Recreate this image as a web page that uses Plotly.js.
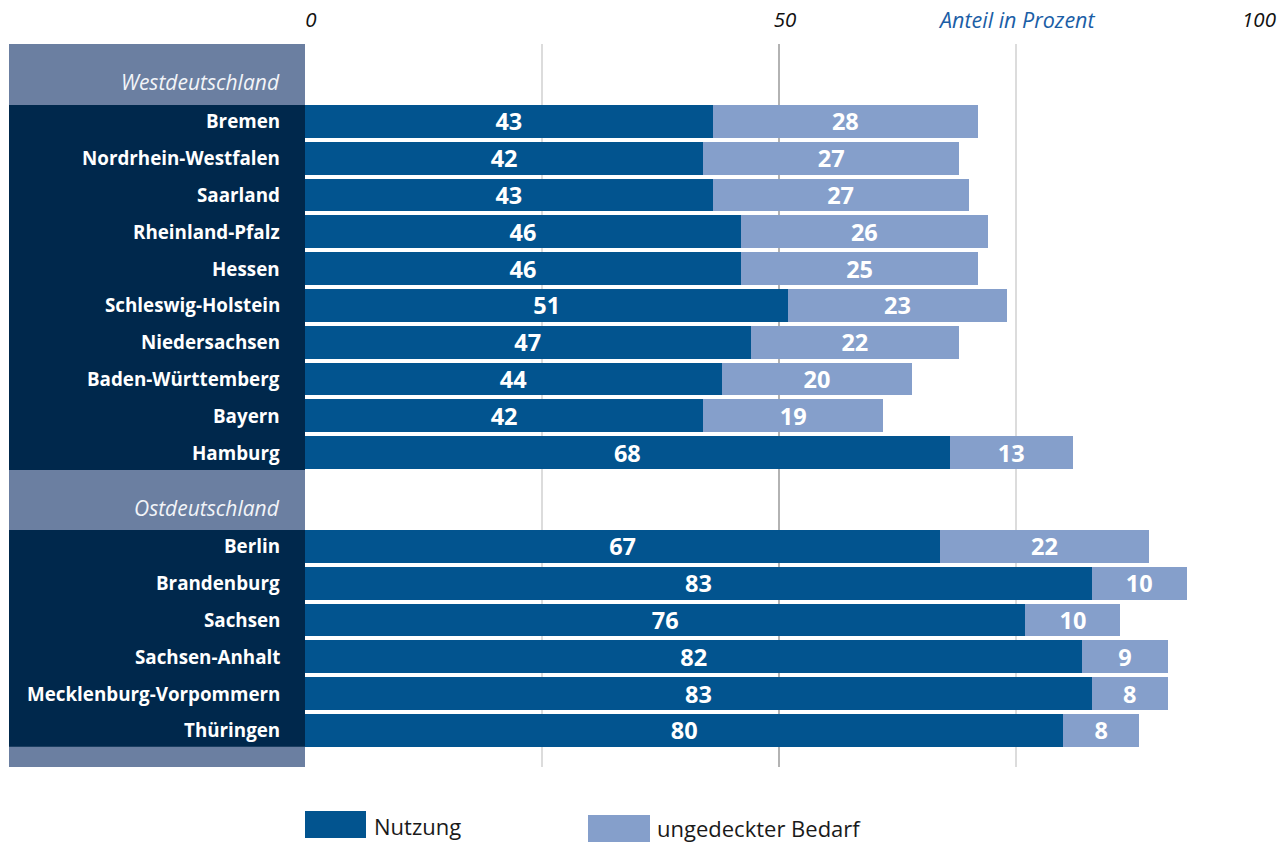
<!DOCTYPE html>
<html>
<head>
<meta charset="utf-8">
<script src="https://cdn.plot.ly/plotly-3.0.1.min.js"></script>
<style>html,body{margin:0;padding:0;background:#fff;}#chart{width:1285px;height:842px;}</style>
</head>
<body>
<div id="chart"></div>
<script>
// ---- data ----
const groupTitles = ["Westdeutschland", "Ostdeutschland"];
const westStates = ["Bremen", "Nordrhein-Westfalen", "Saarland", "Rheinland-Pfalz", "Hessen", "Schleswig-Holstein", "Niedersachsen", "Baden-Württemberg", "Bayern", "Hamburg"];
const westUse = [43, 42, 43, 46, 46, 51, 47, 44, 42, 68];
const westNeed = [28, 27, 27, 26, 25, 23, 22, 20, 19, 13];
const eastStates = ["Berlin", "Brandenburg", "Sachsen", "Sachsen-Anhalt", "Mecklenburg-Vorpommern", "Thüringen"];
const eastUse = [67, 83, 76, 82, 83, 80];
const eastNeed = [22, 10, 10, 9, 8, 8];
const seriesNames = ["Nutzung", "ungedeckter Bedarf"];
const xTickVals = [0, 50, 100];
const axisTitle = "Anteil in Prozent";

// ---- layout geometry (units of one row) ----
const HEADER = 1.658, BAR = 0.89, GAP2 = 1.63;
const westTop = HEADER;
const westPos = westStates.map((_, i) => westTop + i + BAR / 2);
const westEnd = westTop + westStates.length - 0.08;
const eastTop = westEnd + GAP2;
const eastPos = eastStates.map((_, i) => eastTop + i + BAR / 2);
const eastEnd = eastTop + eastStates.length - 0.11;
const yMax = eastEnd + 0.55;

const C_USE = "#02548f", C_NEED = "#859fcb", C_NAVY = "#00284c", C_SLATE = "#6b7fa1";
const FONT = "Open Sans, Noto Sans, sans-serif";

const allPos = westPos.concat(eastPos);
const valFont = {family: FONT, size: 23.5, weight: 700, color: "#ffffff"};
const traces = [
  {type: "bar", orientation: "h", name: seriesNames[0], y: allPos, x: westUse.concat(eastUse), width: BAR,
   marker: {color: C_USE}, text: westUse.concat(eastUse).map(String), textposition: "inside", textangle: 0,
   insidetextanchor: "middle", textfont: valFont, hoverinfo: "x+name"},
  {type: "bar", orientation: "h", name: seriesNames[1], y: allPos, x: westNeed.concat(eastNeed), width: BAR,
   marker: {color: C_NEED}, text: westNeed.concat(eastNeed).map(String), textposition: "inside", textangle: 0,
   insidetextanchor: "middle", textfont: valFont, hoverinfo: "x+name"}
];

const plotW = 1285 - 305 - 32, plotH = 842 - 44 - 75;
const px = p => (p - 305) / plotW;           // pixel x -> paper
const py = p => (767 - p) / plotH;           // pixel y -> paper

const shapes = [
  {type: "rect", xref: "paper", yref: "y", x0: px(9), x1: 0, y0: 0, y1: yMax, fillcolor: C_SLATE, line: {width: 0}, layer: "above"},
  {type: "rect", xref: "paper", yref: "y", x0: px(9), x1: 0, y0: westTop, y1: westEnd, fillcolor: C_NAVY, line: {width: 0}, layer: "above"},
  {type: "rect", xref: "paper", yref: "y", x0: px(9), x1: 0, y0: eastTop, y1: eastEnd, fillcolor: C_NAVY, line: {width: 0}, layer: "above"},
  // legend swatches
  {type: "rect", xref: "paper", yref: "paper", x0: 0, x1: px(366), y0: py(838), y1: py(811), fillcolor: C_USE, line: {width: 0}},
  {type: "rect", xref: "paper", yref: "paper", x0: px(588), x1: px(650), y0: py(842), y1: py(815), fillcolor: C_NEED, line: {width: 0}}
];

const annotations = [];
const labelX = px(282);
const rowFont = {family: FONT, size: 18.8, weight: 700, color: "#ffffff"};
westStates.forEach((s, i) => annotations.push({xref: "paper", yref: "y", x: labelX, y: westPos[i], text: s, showarrow: false, xanchor: "right", yanchor: "middle", font: rowFont}));
eastStates.forEach((s, i) => annotations.push({xref: "paper", yref: "y", x: labelX, y: eastPos[i], text: s, showarrow: false, xanchor: "right", yanchor: "middle", font: rowFont}));
const headFont = {family: FONT, size: 21, style: "italic", color: "#f2f4f8"};
annotations.push({xref: "paper", yref: "y", x: labelX, y: westTop - 0.62, text: groupTitles[0], showarrow: false, xanchor: "right", yanchor: "middle", font: headFont});
annotations.push({xref: "paper", yref: "y", x: labelX, y: eastTop - 0.6, text: groupTitles[1], showarrow: false, xanchor: "right", yanchor: "middle", font: headFont});
annotations.push({xref: "x", yref: "paper", x: 75, y: py(20), text: axisTitle, showarrow: false, xanchor: "center", yanchor: "middle", font: {family: FONT, size: 21.5, style: "italic", color: "#1b5ea6"}});
annotations.push({xref: "paper", yref: "paper", x: px(372), y: py(826), text: seriesNames[0], showarrow: false, xanchor: "left", yanchor: "middle", font: {family: "Liberation Sans Narrow, Open Sans, sans-serif", size: 22, color: "#1a1a1a"}});
annotations.push({xref: "paper", yref: "paper", x: px(655), y: py(828), text: seriesNames[1], showarrow: false, xanchor: "left", yanchor: "middle", font: {family: "Liberation Sans Narrow, Open Sans, sans-serif", size: 22, color: "#1a1a1a"}});

const layout = {
  width: 1285, height: 842,
  margin: {l: 305, r: 32, t: 44, b: 75, pad: 0},
  paper_bgcolor: "#ffffff", plot_bgcolor: "#ffffff",
  barmode: "stack", showlegend: false,
  uniformtext: {mode: "show", minsize: 23.5},
  xaxis: {side: "top", range: [0, 100], tickvals: xTickVals, ticktext: xTickVals.map(String),
          showgrid: true, gridcolor: "#b3b3b3", gridwidth: 2, zeroline: false, ticks: "", showline: false,
          ticklabelstandoff: 12, ticklabelshift: 6,
          tickfont: {family: FONT, size: 20.5, style: "italic", color: "#111111"},
          minor: {tickvals: [25, 75], showgrid: true, gridcolor: "#dcdcdc", gridwidth: 2, ticks: ""},
          fixedrange: true},
  yaxis: {range: [yMax, 0], showgrid: false, zeroline: false, showticklabels: false, ticks: "", showline: false, fixedrange: true},
  shapes: shapes, annotations: annotations,
  font: {family: FONT}
};

Plotly.newPlot("chart", traces, layout, {displayModeBar: false, staticPlot: true});
</script>
</body>
</html>
